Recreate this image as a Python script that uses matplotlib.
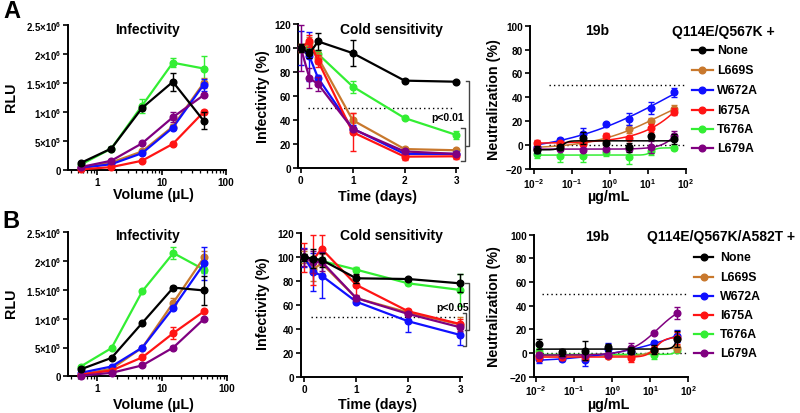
import numpy as np
import matplotlib
matplotlib.use("Agg")
import matplotlib.pyplot as plt
from matplotlib.lines import Line2D
from matplotlib.ticker import FixedLocator, NullLocator, LogLocator, NullFormatter

plt.rcParams['font.family'] = ['Liberation Sans', 'DejaVu Sans']
plt.rcParams['font.weight'] = 'bold'
plt.rcParams['mathtext.fontset'] = 'custom'
plt.rcParams['mathtext.rm'] = 'Liberation Sans:bold'
plt.rcParams['mathtext.bf'] = 'Liberation Sans:bold'
plt.rcParams['mathtext.it'] = 'Liberation Sans:bold:italic'
plt.rcParams['mathtext.default'] = 'rm'

# ---------------- data ----------------
mutants = ['None', 'L669S', 'W672A', 'I675A', 'T676A', 'L679A']
colors = ['#000000', '#C8782D', '#1010FF', '#FF1414', '#33EE33', '#800080']

volume = [0.556, 1.667, 5.0, 15.0, 45.0]          # µL
time_days = [0, 1/6, 1/3, 1, 2, 3]
conc = [0.0122, 0.0488, 0.195, 0.781, 3.125, 12.5, 50.0]   # µg/mL

# Panel A infectivity (RLU, x1e6)
infA = {
    'None':  [0.12, 0.37, 1.07, 1.52, 0.85],
    'L669S': [0.03, 0.13, 0.32, 0.75, 1.50],
    'W672A': [0.035, 0.10, 0.29, 0.73, 1.47],
    'I675A': [0.01, 0.05, 0.16, 0.45, 1.00],
    'T676A': [0.09, 0.37, 1.11, 1.85, 1.75],
    'L679A': [0.05, 0.16, 0.46, 0.91, 1.29],
}
infA_err = {
    'None':  [0.01, 0.02, 0.03, 0.15, 0.15],
    'L669S': [0.0, 0.01, 0.02, 0.04, 0.08],
    'W672A': [0.0, 0.01, 0.02, 0.03, 0.10],
    'I675A': [0.0, 0.0, 0.01, 0.02, 0.03],
    'T676A': [0.0, 0.02, 0.12, 0.08, 0.22],
    'L679A': [0.0, 0.01, 0.02, 0.09, 0.02],
}
# Panel B infectivity (RLU, x1e6)
infB = {
    'None':  [0.12, 0.32, 0.93, 1.54, 1.49],
    'L669S': [0.03, 0.13, 0.50, 1.28, 2.07],
    'W672A': [0.06, 0.17, 0.50, 1.19, 1.96],
    'I675A': [0.03, 0.10, 0.33, 0.75, 1.13],
    'T676A': [0.17, 0.49, 1.48, 2.14, 1.85],
    'L679A': [0.01, 0.06, 0.19, 0.50, 1.00],
}
infB_err = {
    'None':  [0.01, 0.01, 0.02, 0.02, 0.26],
    'L669S': [0.0, 0.01, 0.02, 0.08, 0.10],
    'W672A': [0.0, 0.01, 0.02, 0.03, 0.28],
    'I675A': [0.0, 0.01, 0.02, 0.10, 0.02],
    'T676A': [0.01, 0.02, 0.02, 0.10, 0.05],
    'L679A': [0.0, 0.0, 0.01, 0.02, 0.02],
}
# Cold sensitivity (% infectivity)
coldA = {
    'None':  [100, 95.6, 105.5, 95.8, 72.9, 72.0],
    'L669S': [100, 104, 92, 40, 16, 15],
    'W672A': [100, 93, 75, 33, 12, 12],
    'I675A': [100, 106, 89, 30, 9.7, 10],
    'T676A': [100, 100, 95, 68, 41.8, 27.7],
    'L679A': [100, 75, 70, 32.7, 14, 12],
}
coldA_err = {
    'None':  [3, 4, 7, 11, 1, 1],
    'L669S': [3, 5, 5, 6, 1, 1],
    'W672A': [14, 20, 3, 3, 2, 2],
    'I675A': [3, 5, 5, 16, 3, 2],
    'T676A': [3, 3, 3, 5, 1, 3],
    'L679A': [19, 8, 6, 2, 1, 1],
}
coldB = {
    'None':  [100, 98.9, 97.8, 82.5, 81.9, 78.3],
    'L669S': [100, 90, 95, 66, 54, 44],
    'W672A': [100, 88, 84.7, 63, 46.7, 35.3],
    'I675A': [100, 98, 107, 77, 55, 44.4],
    'T676A': [100, 98, 97, 89.7, 78.3, 72.8],
    'L679A': [100, 96, 96.4, 66, 52.8, 41.7],
}
coldB_err = {
    'None':  [3, 8, 6, 4, 1, 7.6],
    'L669S': [5, 10, 8, 2, 2, 6],
    'W672A': [8, 16, 19, 1, 9, 8],
    'I675A': [12, 21, 12, 8, 2, 4],
    'T676A': [3, 3, 3, 2, 1, 13],
    'L679A': [7, 9, 8, 2, 2, 3],
}
# 19b neutralization (%)
neutA = {
    'None':  [-3.8, -1.9, 5.7, 1.8, -1.9, 7.3, 5.1],
    'L669S': [-2, 0, 2, 4.5, 13.5, 20.5, 30.2],
    'W672A': [-1.3, 4.6, 9.3, 17.7, 21.9, 30.8, 44.2],
    'I675A': [1.5, 1.8, 1.0, 7.3, 6.0, 14.3, 28.0],
    'T676A': [-7.4, -9.4, -9.4, -6.0, -9.7, -5.2, -2.4],
    'L679A': [-3.2, -3.2, -3.8, -3.2, -3.2, -1.9, 7.9],
}
neutA_err = {
    'None':  [3, 2, 5, 1, 4, 2, 4],
    'L669S': [2, 1, 2, 2, 3, 2, 3],
    'W672A': [5, 1, 5, 1, 5, 5, 4],
    'I675A': [3, 1, 2, 3, 1, 3, 3],
    'T676A': [3, 5, 5, 3, 6, 3, 2],
    'L679A': [1, 1, 1, 1, 1, 5, 4],
}
neutB = {
    'None':  [7.6, 0.6, 2.0, 4.8, 2.0, 2.8, 11.8],
    'L669S': [-2.3, -2.5, -2.5, -2.3, -2.3, 2.0, 4.0],
    'W672A': [-5.4, -5.1, -5.9, 3.4, 0.6, 8.5, 14.6],
    'I675A': [-3.0, -3.7, -3.7, -2.3, -4.5, 3.4, 13.0],
    'T676A': [1.4, -2.3, -1.7, -1.7, -1.4, -1.4, 2.5],
    'L679A': [-1.4, -1.4, -1.4, -1.4, 4.2, 16.9, 33.5],
}
neutB_err = {
    'None':  [4, 3, 8, 3, 3, 4, 7],
    'L669S': [1, 1, 1, 1, 1, 2, 3],
    'W672A': [3, 2, 5, 5, 2, 2, 5],
    'I675A': [4, 2, 2, 2, 3, 2, 5],
    'T676A': [3, 1, 1, 1, 1, 4, 2],
    'L679A': [1, 1, 1, 1, 4, 1, 5],
}

inf_ticks = [0, 0.5, 1.0, 1.5, 2.0, 2.5]
inf_ticklabels = ['0', '5×10$^{5}$', '1×10$^{6}$', '1.5×10$^{6}$', '2×10$^{6}$', '2.5×10$^{6}$']
cold_yticks = [0, 20, 40, 60, 80, 100, 120]
cold_xticks = [0, 1, 2, 3]
neut_yticks = [-20, 0, 20, 40, 60, 80, 100]
neut_xticks = [0.01, 0.1, 1, 10, 100]

# ---------------- helpers ----------------
W, H = 800, 414
fig = plt.figure(figsize=(8, 4.14), dpi=100)

def rect(l, t, r, b):
    return [l / W, 1 - b / H, (r - l) / W, (b - t) / H]

def ftxt(x, y, s, **kw):
    fig.text(x / W, 1 - y / H, s, **kw)

LW_SP = 1.4
TICKFS = 7.2

def style(ax):
    for s in ['top', 'right']:
        ax.spines[s].set_visible(False)
    for s in ['left', 'bottom']:
        ax.spines[s].set_linewidth(LW_SP)
    ax.tick_params(which='major', direction='out', length=3.5, width=1.2, labelsize=TICKFS, pad=1.5)
    ax.tick_params(which='minor', direction='out', length=2, width=0.9)
    for lab in ax.get_xticklabels() + ax.get_yticklabels():
        lab.set_fontweight('bold')

zord = {'None': 10, 'L669S': 4, 'W672A': 5, 'I675A': 6, 'T676A': 3, 'L679A': 7}

def fit4pl(x, y):
    lx = np.log10(np.asarray(x, float))
    y = np.asarray(y, float)
    best = None
    for c in np.linspace(-2.5, 4.0, 131):
        for h in np.linspace(0.3, 6.0, 58):
            s = 1.0 / (1.0 + 10 ** ((c - lx) * h))
            A = np.column_stack([np.ones_like(s), s])
            coef, *_ = np.linalg.lstsq(A, y, rcond=None)
            sse = np.sum((A @ coef - y) ** 2)
            if best is None or sse < best[0]:
                best = (sse, c, h, coef)
    _, c, h, coef = best
    xs = np.logspace(lx.min(), lx.max(), 300)
    ys = coef[0] + coef[1] / (1.0 + 10 ** ((c - np.log10(xs)) * h))
    return xs, ys

def infect_panel(ax, data, err):
    for m, c in zip(mutants, colors):
        ax.errorbar(volume, np.array(data[m]) * 1e6, yerr=np.array(err[m]) * 1e6, color=c,
                    marker='o', ms=4.8, lw=1.6, elinewidth=1.0, capsize=2.5, capthick=1.0,
                    zorder=zord[m], clip_on=False)
    ax.set_xscale('log')
    ax.set_xlim(0.355, 100)
    ax.set_ylim(0, 2.5e6)
    ax.yaxis.set_major_locator(FixedLocator([v * 1e6 for v in inf_ticks]))
    ax.set_yticklabels(inf_ticklabels)
    ax.xaxis.set_major_locator(FixedLocator([1, 10, 100]))
    ax.set_xticklabels(['1', '10', '100'])
    ax.xaxis.set_minor_locator(LogLocator(base=10, subs=np.arange(2, 10)))
    ax.xaxis.set_minor_formatter(NullFormatter())
    style(ax)
    ax.tick_params(axis='y', labelsize=6.9)

def cold_panel(ax, data, err, brackets, ptxt, pxy):
    ax.hlines(50, 0.13, 2.95, colors='black', linestyles=(0, (1, 2.2)), lw=1.0, zorder=1)
    for m, c in zip(mutants, colors):
        ax.errorbar(time_days, data[m], yerr=err[m], color=c,
                    marker='o', ms=4.8, lw=1.6, elinewidth=1.0, capsize=2.5, capthick=1.0,
                    zorder=zord[m], clip_on=False)
    ax.set_xlim(-0.06, 3.03)
    ax.set_ylim(0, 120)
    ax.yaxis.set_major_locator(FixedLocator(cold_yticks))
    ax.xaxis.set_major_locator(FixedLocator(cold_xticks))
    style(ax)
    for (bx, y0, y1) in brackets:
        ax.plot([bx - 0.07, bx, bx, bx - 0.07], [y0, y0, y1, y1], color='#444444', lw=1.0,
                clip_on=False, zorder=2)
    ax.text(pxy[0], pxy[1], ptxt, fontsize=7.5, fontweight='bold', ha='center', va='center')

def neut_panel(ax, data, err, xdot):
    ax.hlines([50, 0], 10 ** xdot, 100, colors='black', linestyles=(0, (1, 2.2)), lw=1.0, zorder=1)
    for m, c in zip(mutants, colors):
        xs, ys = fit4pl(conc, data[m])
        ax.plot(xs, ys, color=c, lw=1.1, zorder=zord[m])
        ax.errorbar(conc, data[m], yerr=err[m], color=c, fmt='o', ms=4.8,
                    elinewidth=1.0, capsize=2.5, capthick=1.0, zorder=zord[m], clip_on=False)
    ax.set_xscale('log')
    ax.set_ylim(-20, 100)
    ax.yaxis.set_major_locator(FixedLocator(neut_yticks))
    ax.xaxis.set_major_locator(FixedLocator(neut_xticks))
    ax.xaxis.set_minor_locator(NullLocator())
    style(ax)

# ---------------- panel A ----------------
axA1 = fig.add_axes(rect(68, 26, 226, 171))
infect_panel(axA1, infA, infA_err)
axA2 = fig.add_axes(rect(297.7, 25, 458, 169.3))
cold_panel(axA2, coldA, coldA_err, [(3.245, 72.3, 18.8), (3.16, 33.2, 6.4)], 'p<0.01', (2.83, 42.6))
axA3 = fig.add_axes(rect(530, 26.7, 685.7, 170))
neut_panel(axA3, neutA, neutA_err, -1.6)
axA3.set_xlim(10 ** -2.105, 100)

# ---------------- panel B ----------------
axB1 = fig.add_axes(rect(68, 233.3, 226.7, 377.3))
infect_panel(axB1, infB, infB_err)
axB2 = fig.add_axes(rect(300.7, 234.3, 461.7, 378.3))
cold_panel(axB2, coldB, coldB_err, [(3.17, 78.3, 39.4), (3.12, 53.3, 26.4)], 'p<0.05', (2.86, 58.5))
axB2.set_xlim(-0.07, 3.03)
axB3 = fig.add_axes(rect(534, 235.7, 688.3, 377.7))
neut_panel(axB3, neutB, neutB_err, -1.85)
axB3.set_xlim(10 ** -2.05, 100)

# ---------------- texts ----------------
TFS = 10
LFS = 10.3
for (dy, yv, yt, yu) in ((0, 195, 197, 197.5), (206.5, 405, 405.5, 405)):
    ftxt(147.5, 30 + dy, 'Infectivity', fontsize=TFS, fontweight='bold', ha='center', va='center')
    ftxt(391, 30 + dy, 'Cold sensitivity', fontsize=TFS, fontweight='bold', ha='center', va='center')
    ftxt(597, 31 + dy, '19b', fontsize=TFS, fontweight='bold', ha='center', va='center')
    ftxt(11, 97 + dy, 'RLU', fontsize=LFS, fontweight='bold', ha='center', va='center', rotation=90)
    ftxt(153, yv, 'Volume (µL)', fontsize=LFS, fontweight='bold', ha='center', va='center')
    ftxt(263, 97 + dy, 'Infectivity (%)', fontsize=LFS, fontweight='bold', ha='center', va='center', rotation=90)
    ftxt(377.5, yt, 'Time (days)', fontsize=LFS, fontweight='bold', ha='center', va='center')
    ftxt(494, 100 + dy, 'Neutralization (%)', fontsize=LFS, fontweight='bold', ha='center', va='center', rotation=90)
    ftxt(608, yu, 'µg/mL', fontsize=LFS, fontweight='bold', ha='center', va='center')

ftxt(12, 12, 'A', fontsize=17, fontweight='bold', ha='center', va='center')
ftxt(11, 221, 'B', fontsize=17, fontweight='bold', ha='center', va='center')

# ---------------- legends ----------------
def legend(title, tx, ty, hx0, hx1, txx, ys):
    ftxt(tx, ty, title, fontsize=10, fontweight='bold', ha='left', va='center')
    for m, c, y in zip(mutants, colors, ys):
        xx = np.array([hx0, (hx0 + hx1) / 2, hx1]) / W
        yy = np.full(3, 1 - y / H)
        fig.add_artist(Line2D(xx, yy, color=c, lw=1.6, marker='o', ms=4.8, markevery=[1],
                              transform=fig.transFigure))
        ftxt(txx, y, m, fontsize=8.8, fontweight='bold', ha='left', va='center')

legend('Q114E/Q567K +', 671.7, 31.7, 691.7, 712.7, 717, [51, 71, 91, 111, 130, 149])
legend('Q114E/Q567K/A582T +', 646.7, 236.7, 694.3, 713.3, 720, [258.3, 277.7, 297.3, 316, 335, 354])

fig.savefig('out.png', dpi=100)
